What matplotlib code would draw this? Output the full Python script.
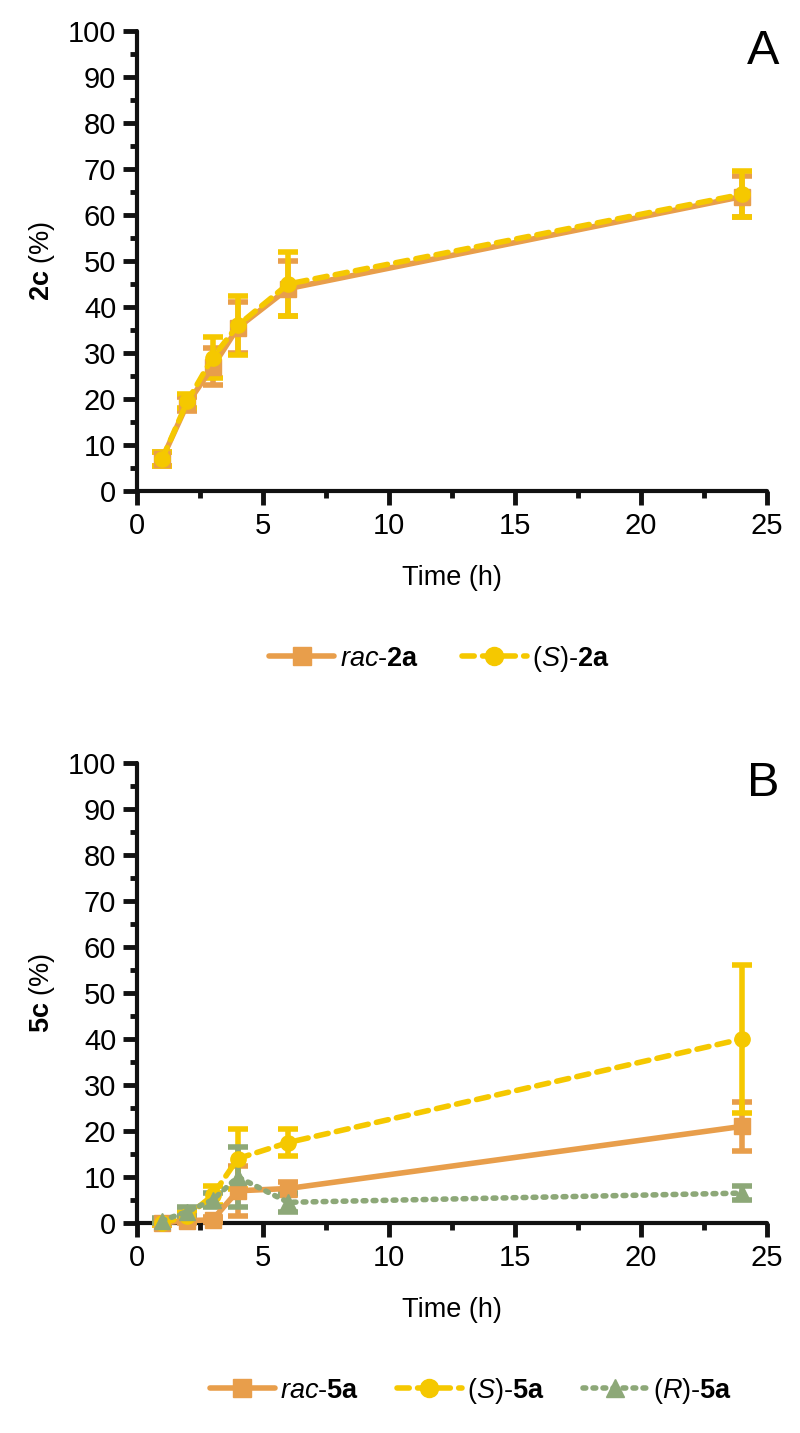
import matplotlib
matplotlib.use("Agg")
import matplotlib.pyplot as plt
from matplotlib.ticker import MultipleLocator
from matplotlib.lines import Line2D

plt.rcParams['font.family'] = ['Liberation Sans', 'DejaVu Sans']
plt.rcParams['mathtext.fontset'] = 'custom'
plt.rcParams['mathtext.rm'] = 'Liberation Sans'
plt.rcParams['mathtext.it'] = 'Liberation Sans:italic'
plt.rcParams['mathtext.bf'] = 'Liberation Sans:bold'

time_h = [1, 2, 3, 4, 6, 24]

# Panel A: 2c (%)
rac2a = [7, 19, 27, 35.5, 44, 64]
rac2a_err = [1.5, 1.5, 4, 5.5, 6, 4.5]
s2a = [7, 19.5, 29, 36, 45, 64.5]
s2a_err = [1.5, 1.5, 4.5, 6.5, 7, 5]

# Panel B: 5c (%)
rac5a = [0, 0.5, 0.7, 7, 7.5, 21]
rac5a_err = [0.5, 0.5, 0.5, 5.5, 1.5, 5.3]
s5a = [0, 1.5, 6, 14, 17.5, 40]
s5a_err = [0.5, 1, 2, 6.5, 3, 16]
r5a = [0.5, 2.5, 5, 10, 4.5, 6.5]
r5a_err = [0.5, 1, 1.5, 6.5, 2, 1.5]

orange = '#E89E4B'
yellow = '#F5C800'
green = '#8DA878'

FS_TICK = 21
FS_LAB = 19.5
FS_LEG = 19.5

fig = plt.figure(figsize=(8, 14.33), dpi=100)
W, H = 800, 1433

def make_ax(top_px, bottom_px):
    left, right = 137, 767
    return fig.add_axes([left / W, 1 - bottom_px / H, (right - left) / W, (bottom_px - top_px) / H])

def style(ax, ylabel_bold):
    ax.set_xlim(0, 25)
    ax.set_ylim(0, 100)
    ax.xaxis.set_major_locator(MultipleLocator(5))
    ax.xaxis.set_minor_locator(MultipleLocator(2.5))
    ax.yaxis.set_major_locator(MultipleLocator(10))
    ax.yaxis.set_minor_locator(MultipleLocator(5))
    for s in ['top', 'right']:
        ax.spines[s].set_visible(False)
    for s in ['left', 'bottom']:
        ax.spines[s].set_linewidth(3)
        ax.spines[s].set_color('#111111')
        ax.spines[s].set_capstyle('round')
    ax.tick_params(which='major', direction='out', length=10, width=3.5, color='#111111',
                   labelsize=FS_TICK, pad=5)
    ax.tick_params(which='minor', direction='out', length=5, width=3.5, color='#111111')
    ax.set_xlabel('Time (h)', fontsize=FS_LAB, labelpad=18)
    ax.set_ylabel(r'$\bf{' + ylabel_bold + r'}$ (%)', fontsize=FS_LAB, labelpad=8)

LS = {'-': '-', 'dash': (0, (2.2, 1.5)), 'dot': (0, (0.5, 1.3))}

def series(ax, y, err, color, ls, marker):
    ax.errorbar(time_h, y, yerr=err, color=color, ls=ls, lw=4, marker=marker,
                markersize=11, elinewidth=4, capsize=7, capthick=4,
                dash_capstyle='round', solid_capstyle='round',
                clip_on=False, zorder=3)
    return Line2D([], [], color=color, ls=ls, lw=4, marker=marker, markersize=13,
                  dash_capstyle='round', solid_capstyle='round')

axA = make_ax(31, 491)
hA = [series(axA, rac2a, rac2a_err, orange, LS['-'], 's'),
      series(axA, s2a, s2a_err, yellow, LS['dash'], 'o')]
style(axA, '2c')
axA.text(1.02, 1.005, 'A', transform=axA.transAxes, fontsize=35, ha='right', va='top')
axA.legend(hA, [r'$\it{rac}$-$\bf{2a}$', r'($\it{S}$)-$\bf{2a}$'],
           loc='center', bbox_to_anchor=(0.48, -0.365), ncol=2, frameon=False,
           fontsize=FS_LEG, handlelength=2.4, columnspacing=1.6, handletextpad=0.2)

axB = make_ax(763, 1223)
hB = [series(axB, rac5a, rac5a_err, orange, LS['-'], 's'),
      series(axB, s5a, s5a_err, yellow, LS['dash'], 'o'),
      series(axB, r5a, r5a_err, green, LS['dot'], '^')]
style(axB, '5c')
axB.text(1.02, 1.005, 'B', transform=axB.transAxes, fontsize=35, ha='right', va='top')
axB.legend(hB, [r'$\it{rac}$-$\bf{5a}$', r'($\it{S}$)-$\bf{5a}$', r'($\it{R}$)-$\bf{5a}$'],
           loc='center', bbox_to_anchor=(0.53, -0.365), ncol=3, frameon=False,
           fontsize=FS_LEG, handlelength=2.4, columnspacing=1.4, handletextpad=0.2)

fig.savefig('out.png', dpi=100)
